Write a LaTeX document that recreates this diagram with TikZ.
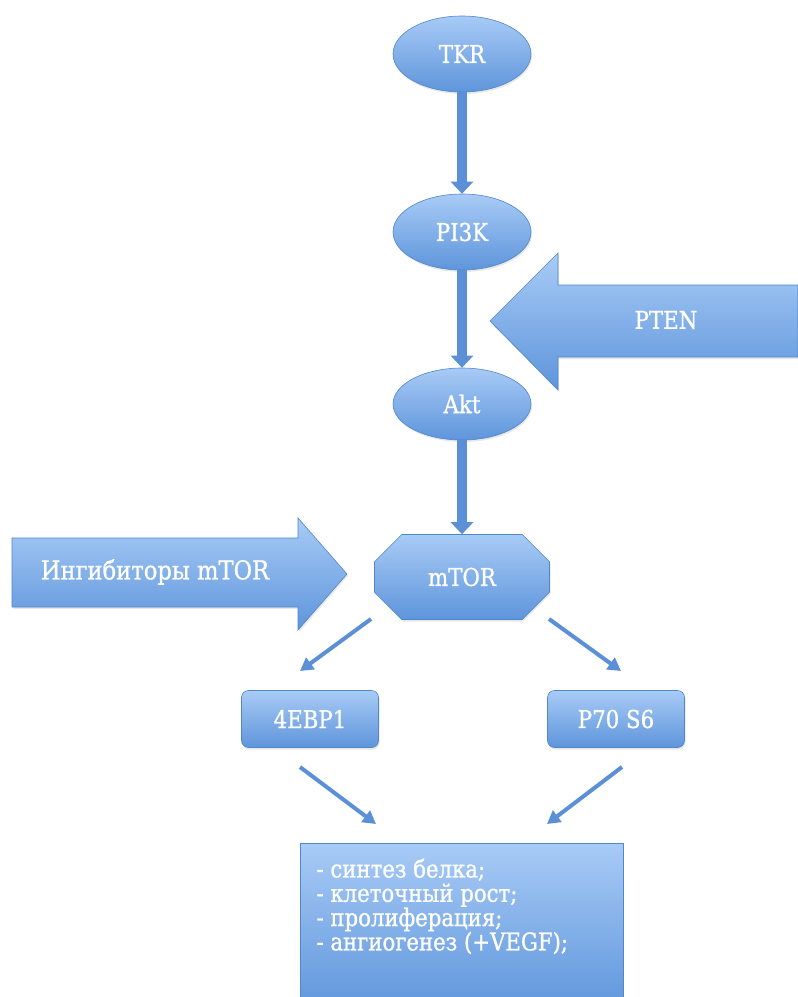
\documentclass[tikz,border=0pt]{standalone}
\usepackage{fontspec}
\setmainfont{DejaVu Serif}
\newfontfamily\lblfont[FakeStretch=0.87,FakeBold=1]{DejaVu Serif}
\usetikzlibrary{shapes.geometric,shapes.misc,arrows.meta,shadows}
\definecolor{topc}{HTML}{A8CBF6}
\definecolor{botc}{HTML}{5E95DB}
\definecolor{edgec}{HTML}{4F86CC}
\definecolor{arrc}{HTML}{5B90D7}
\tikzset{
  blob/.style={top color=topc, bottom color=botc, draw=edgec, line width=0.6pt,
    text=white, font=\lblfont\fontsize{24.5}{26}\selectfont,
    drop shadow={opacity=0.18, shadow xshift=1pt, shadow yshift=-2pt}},
  oval/.style={blob, ellipse, minimum width=138pt, minimum height=76pt, inner sep=0pt},
  rbox/.style={blob, rounded corners=7pt, minimum width=137pt, minimum height=57pt},
  octa/.style={blob, chamfered rectangle, chamfered rectangle xsep=20pt, chamfered rectangle ysep=18pt,
    minimum width=175pt, minimum height=85pt, inner sep=0pt},
  bigarrow/.style={top color=topc, bottom color=botc, draw=edgec, line width=0.6pt,
    drop shadow={opacity=0.18, shadow xshift=1pt, shadow yshift=-2pt}},
  vlink/.style={draw=arrc, line width=10pt, -{Triangle[width=22pt,length=12pt]}},
  dlink/.style={draw=arrc, line width=4pt, -{Triangle[width=14pt,length=13pt]}},
  lbl/.style={text=white, font=\lblfont\fontsize{24.5}{26}\selectfont},
}
\begin{document}
\begin{tikzpicture}[x=1pt,y=-1pt]
\useasboundingbox (0,0) rectangle (798,997);
% PTEN block arrow
\path[bigarrow] (798,285) -- (558,285) -- (558,253) -- (490,321) -- (558,390) -- (558,357) -- (798,357) -- cycle;
\node[lbl] (pten) at (666,320) {PTEN};
% inhibitors block arrow
\path[bigarrow] (12,538) -- (298,538) -- (298,518) -- (347,574) -- (298,630) -- (298,607) -- (12,607) -- cycle;
\node[lbl, font=\lblfont\fontsize{26}{28}\selectfont] (inh) at (155,572) {Ингибиторы mTOR};
% nodes
\node[oval] (tkr) at (462,54) {TKR};
\node[oval] (pi3k) at (462,232) {PI3K};
\node[oval, minimum height=72pt] (akt) at (462,404) {Akt};
\node[octa] (mtor) at (462,577) {mTOR};
\node[rbox] (ebp) at (310,719) {4EBP1};
\node[rbox] (p70) at (616,719) {P70 S6};
\node[blob, anchor=north west, minimum width=323pt, minimum height=170pt, inner sep=0pt] (res) at (300,843) {};
\node[anchor=north west, align=left, text=white, font=\lblfont\fontsize{24.4}{24.3}\selectfont] (restext) at (313,855)
  {- синтез белка;\\- клеточный рост;\\- пролиферация;\\- ангиогенез (+VEGF);};
% vertical links
\draw[vlink] (tkr.south) -- (pi3k.north);
\draw[vlink] (pi3k.south) -- (akt.north);
\draw[vlink] (akt.south) -- (mtor.north);
% diagonal links
\coordinate (m1) at (371,619);
\coordinate (m2) at (549,619);
\coordinate (e1) at (300,671);
\coordinate (p1) at (621,671);
\coordinate (e2) at (300,767);
\coordinate (p2) at (622,767);
\coordinate (r1) at (376,824);
\coordinate (r2) at (547,824);
\draw[dlink] (m1) -- (e1);
\draw[dlink] (m2) -- (p1);
\draw[dlink] (e2) -- (r1);
\draw[dlink] (p2) -- (r2);
\end{tikzpicture}
\end{document}
